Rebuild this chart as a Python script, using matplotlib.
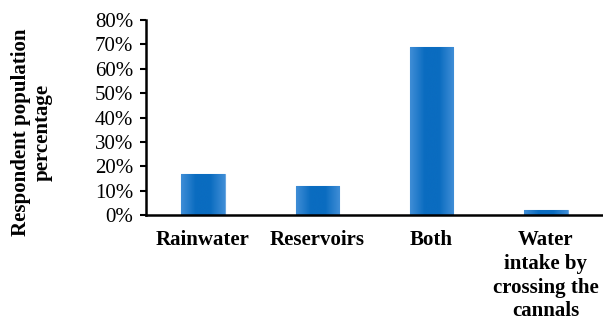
import numpy as np
import matplotlib.pyplot as plt
from matplotlib.colors import LinearSegmentedColormap
from matplotlib.ticker import PercentFormatter

categories = ["Rainwater", "Reservoirs", "Both", "Water\nintake by\ncrossing the\ncannals"]
values = [17, 12, 69, 2]

plt.rcParams["font.family"] = ["Liberation Serif", "DejaVu Serif"]

fig = plt.figure(figsize=(6.03, 3.23), dpi=100)
ax = fig.add_axes([0.242, 0.334, 0.758, 0.604])

x = np.arange(len(categories))
bars = ax.bar(x, values, width=0.38, color="#0d70c2", edgecolor="#6aa6e0", linewidth=0.8)

# soft sideways shading like the original bars
cmap = LinearSegmentedColormap.from_list("bar", ["#3f8dd6", "#0a6cc0", "#0a6cc0", "#3f8dd6"])
grad = np.linspace(0, 1, 64).reshape(1, -1)
for b in bars:
    x0, y0 = b.get_x(), b.get_y()
    w, h = b.get_width(), b.get_height()
    im = ax.imshow(grad, cmap=cmap, aspect="auto", extent=[x0, x0 + w, y0, y0 + h],
                   zorder=b.get_zorder(), interpolation="bicubic")
    im.set_clip_path(b)

ax.set_xlim(-0.5, 3.5)
ax.set_ylim(0, 80)
ax.set_yticks(range(0, 81, 10))
ax.yaxis.set_major_formatter(PercentFormatter(decimals=0))
ax.set_xticks(x)
ax.set_xticklabels(categories, fontweight="bold", fontsize=15, linespacing=1.24, va="top")
ax.tick_params(axis="x", length=0, pad=11)
ax.tick_params(axis="y", direction="out", length=4.3, width=1.5, labelsize=15, pad=5)

for s in ["top", "right"]:
    ax.spines[s].set_visible(False)
ax.spines["left"].set_linewidth(1.8)
ax.spines["bottom"].set_linewidth(1.8)
ax.spines["left"].set_zorder(5)
ax.spines["bottom"].set_zorder(5)

ax.set_ylabel("Respondent population\npercentage", fontweight="bold", fontsize=15,
              linespacing=1.1, ha="center", va="center")
ax.yaxis.set_label_coords(-0.249, 0.426)

fig.savefig("out.png", dpi=100)
